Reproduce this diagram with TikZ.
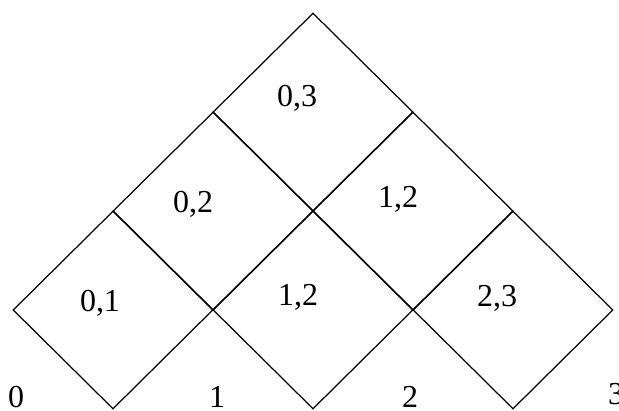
\documentclass[tikz,border=0pt]{standalone}
\usepackage{fontspec}
\setmainfont{Liberation Serif}
\usetikzlibrary{shapes.geometric}

\begin{document}
\begin{tikzpicture}[
  cell/.style={draw, diamond, inner sep=0pt, minimum width=2cm, minimum height=1.98cm,
               line width=0.35pt},
  lab/.style={inner sep=0pt, anchor=base, font=\fontsize{9.1}{11}\selectfont}
]
\useasboundingbox (0,0) rectangle (6.19,4.11);

% Squares
\node[cell] (c01)  at (1.13,1.01) {};
\node[cell] (c12a) at (3.13,1.01) {};
\node[cell] (c23)  at (5.13,1.01) {};
\node[cell] (c02)  at (2.13,2.00) {};
\node[cell] (c12b) at (4.13,2.00) {};
\node[cell] (c03)  at (3.13,2.99) {};

% Cell labels
\node[lab] (l01)  at (1.00,0.99) {0,1};
\node[lab] (l12a) at (2.98,1.05) {1,2};
\node[lab] (l23)  at (4.97,1.04) {2,3};
\node[lab] (l02)  at (1.93,1.98) {0,2};
\node[lab] (l12b) at (3.98,2.03) {1,2};
\node[lab] (l03)  at (2.97,3.04) {0,3};

% Points
\node[lab] (p0) at (0.16,0.03) {0};
\node[lab] (p1) at (2.17,0.03) {1};
\node[lab] (p2) at (4.10,0.03) {2};
\node[lab] (p3) at (6.16,0.06) {3};
\end{tikzpicture}
\end{document}
